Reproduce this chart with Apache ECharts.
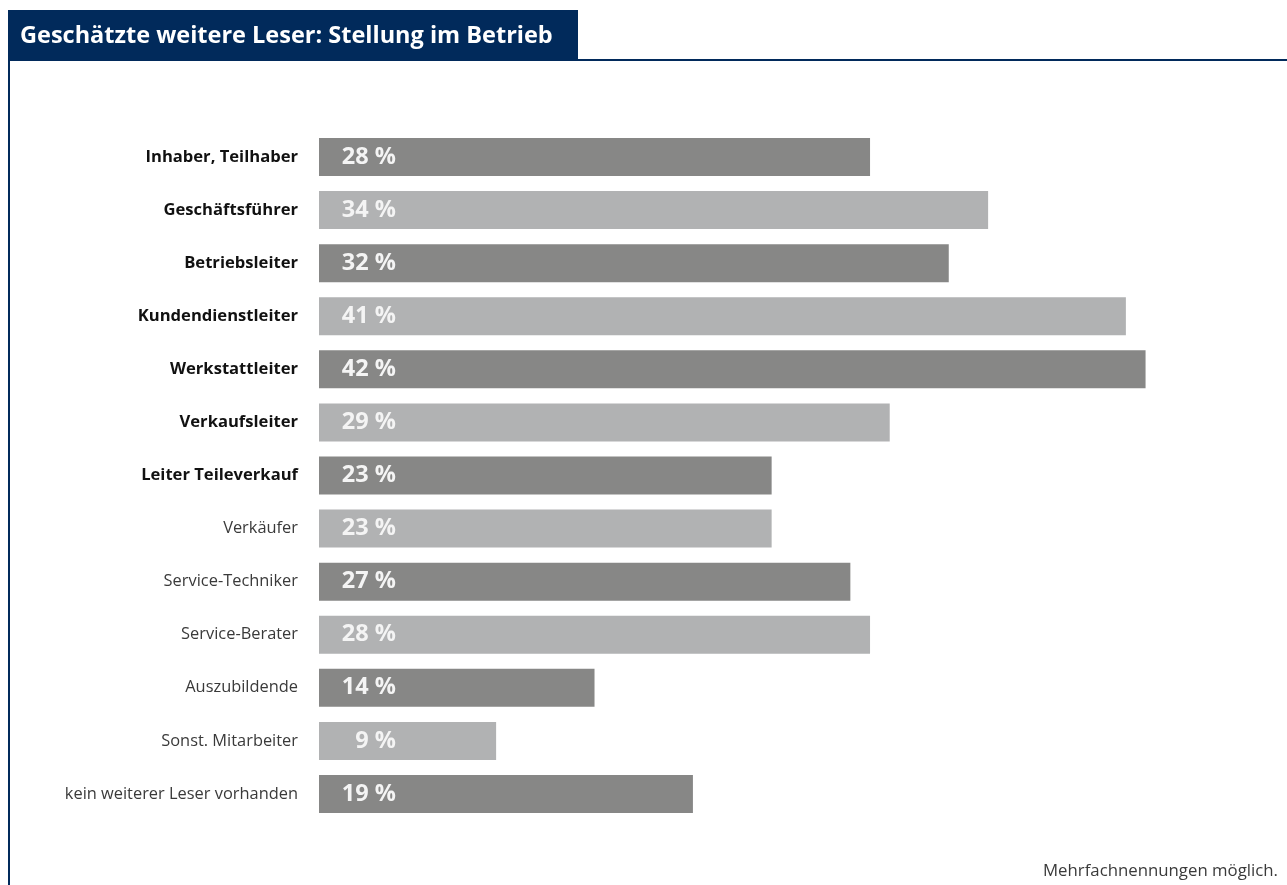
<!DOCTYPE html>
<html>
<head>
<meta charset="utf-8">
<script src="https://cdn.jsdelivr.net/npm/echarts@6/dist/echarts.min.js"></script>
<style>
  html, body { margin: 0; padding: 0; background: #ffffff; }
  #chart { width: 1287px; height: 885px; }
</style>
</head>
<body>
<div id="chart"></div>
<script>
// Positions in the company, top to bottom
const categories = [
  'Inhaber, Teilhaber',
  'Geschäftsführer',
  'Betriebsleiter',
  'Kundendienstleiter',
  'Werkstattleiter',
  'Verkaufsleiter',
  'Leiter Teileverkauf',
  'Verkäufer',
  'Service-Techniker',
  'Service-Berater',
  'Auszubildende',
  'Sonst. Mitarbeiter',
  'kein weiterer Leser vorhanden'
];
// Share of estimated further readers, in percent
const shares = [28, 34, 32, 41, 42, 29, 23, 23, 27, 28, 14, 9, 19];
// Management positions are set in bold
const boldCount = 7;

const titleText = 'Geschätzte weitere Leser: Stellung im Betrieb';
const footnote = 'Mehrfachnennungen möglich.';

const NAVY = '#012a5b';
const DARK = '#878786';
const LIGHT = '#b1b2b3';
const FONT = '"Open Sans", "Noto Sans", sans-serif';

const chart = echarts.init(document.getElementById('chart'), null, { renderer: 'canvas' });

chart.setOption({
  animation: false,
  backgroundColor: '#ffffff',
  textStyle: { fontFamily: FONT },
  graphic: [
    // title box
    { type: 'rect', left: 8, top: 10, shape: { width: 570, height: 51 }, style: { fill: NAVY }, z: 10 },
    { type: 'text', left: 20, top: 24, style: {
        text: titleText, fill: '#ffffff', font: 'bold 23.5px ' + FONT }, z: 11 },
    // frame lines
    { type: 'rect', left: 578, top: 59, shape: { width: 709, height: 2 }, style: { fill: NAVY }, z: 10 },
    { type: 'rect', left: 8, top: 60, shape: { width: 2, height: 825 }, style: { fill: NAVY }, z: 10 },
    // footnote
    { type: 'text', right: 9, top: 863, style: {
        text: footnote, fill: '#3a3a3a', font: '16.8px ' + FONT }, z: 11 }
  ],
  grid: { left: 319, width: 885.6, top: 130.5, height: 690, containLabel: false },
  xAxis: {
    type: 'value', min: 0, max: 45,
    show: false
  },
  yAxis: {
    type: 'category',
    data: categories,
    inverse: true,
    axisLine: { show: false },
    axisTick: { show: false },
    splitLine: { show: false },
    axisLabel: {
      margin: 21,
      formatter: function (v, i) {
        return i < boldCount ? '{b|' + v + '}' : '{n|' + v + '}';
      },
      rich: {
        b: { fontFamily: FONT, fontWeight: 'bold', fontSize: 16.6, color: '#111111' },
        n: { fontFamily: FONT, fontWeight: 'normal', fontSize: 16.4, color: '#3a3a3a' }
      }
    }
  },
  series: [{
    type: 'bar',
    data: shares,
    barWidth: 38,
    itemStyle: {
      color: function (p) { return p.dataIndex % 2 === 0 ? DARK : LIGHT; }
    },
    label: {
      show: true,
      position: [77, '50%'],
      align: 'right',
      verticalAlign: 'middle',
      formatter: function (p) { return p.value + ' %'; },
      color: '#f4f4f4',
      fontFamily: FONT,
      fontWeight: 'bold',
      fontSize: 23.5
    }
  }]
});
</script>
</body>
</html>
